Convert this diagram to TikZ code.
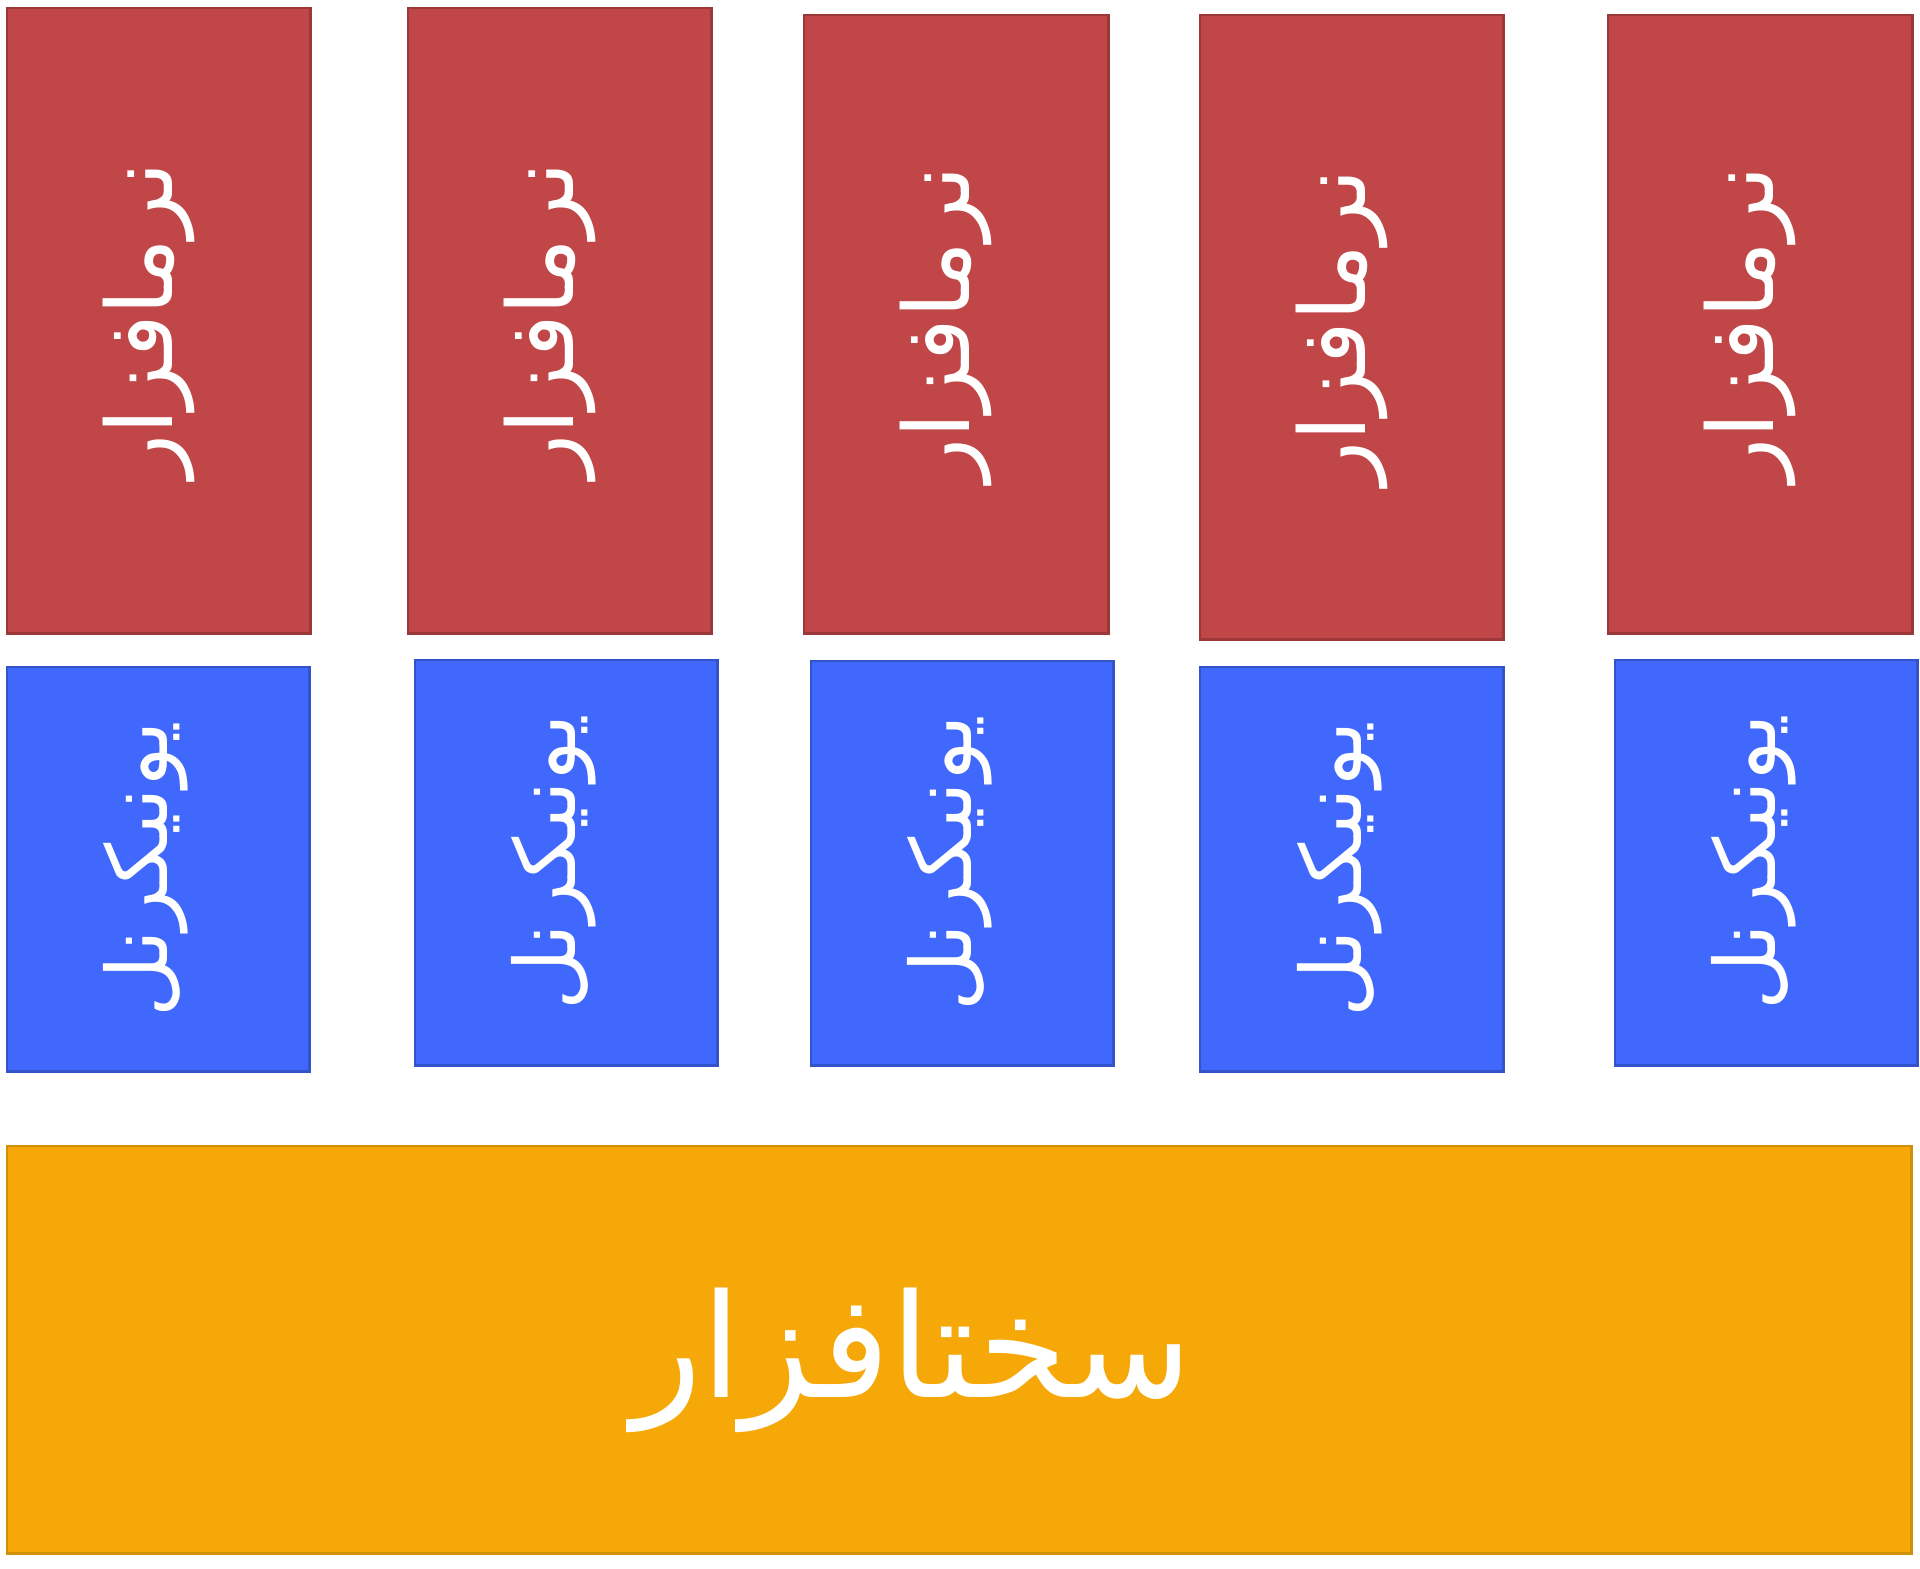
\documentclass[tikz,border=0pt]{standalone}
\usepackage{fontspec}
\newfontfamily\farsifont[Script=Arabic]{DejaVu Sans}
\TeXXeTstate=1
\definecolor{softred}{RGB}{192,70,72}
\definecolor{uniblue}{RGB}{64,104,252}
\definecolor{hardorange}{RGB}{245,168,8}

\begin{document}
\begin{tikzpicture}[x=0.01cm, y=-0.01cm,
		softbox/.style={rectangle, anchor=north west, inner sep=0pt, outer sep=0pt, minimum width=3.03cm, line width=0.8pt, draw=softred!80!black, fill=softred},
		unibox/.style={rectangle, anchor=north west, inner sep=0pt, outer sep=0pt, minimum width=3.02cm, line width=0.8pt, draw=uniblue!80!black, fill=uniblue},
		hardbox/.style={rectangle, anchor=north west, inner sep=0pt, outer sep=0pt, line width=0.8pt, draw=hardorange!85!black, fill=hardorange},
		vlabel/.style={rotate=90, text=white, inner sep=0pt, font=\farsifont\fontsize{26}{32}\selectfont}]
			\useasboundingbox (0,0) rectangle (1920,1569);

			% software layer
			\node (soft1) [softbox, minimum height=6.25cm] at (7,8) {};
			\node (soft2) [softbox, minimum height=6.25cm] at (408,8) {};
			\node (soft3) [softbox, minimum height=6.18cm, minimum width=3.04cm] at (804,15) {};
			\node (soft4) [softbox, minimum height=6.24cm] at (1200,15) {};
			\node (soft5) [softbox, minimum height=6.18cm, minimum width=3.04cm] at (1608,15) {};

			% unikernel layer
			\node (uni1) [unibox, minimum height=4.04cm] at (7,667) {};
			\node (uni2) [unibox, minimum height=4.05cm] at (415,660) {};
			\node (uni3) [unibox, minimum height=4.04cm] at (811,661) {};
			\node (uni4) [unibox, minimum height=4.04cm, minimum width=3.03cm] at (1200,667) {};
			\node (uni5) [unibox, minimum height=4.05cm] at (1615,660) {};

			% hardware layer
			\node (hard) [hardbox, minimum width=19.03cm, minimum height=4.07cm] at (7,1146) {};

			% labels
			\node (soft1text) [vlabel] at ([xshift=-0.1cm]soft1.center) {\beginR نرمافزار\endR};
			\node (soft2text) [vlabel] at ([xshift=-0.1cm]soft2.center) {\beginR نرمافزار\endR};
			\node (soft3text) [vlabel] at ([xshift=-0.1cm]soft3.center) {\beginR نرمافزار\endR};
			\node (soft4text) [vlabel] at ([xshift=-0.1cm]soft4.center) {\beginR نرمافزار\endR};
			\node (soft5text) [vlabel] at ([xshift=-0.1cm]soft5.center) {\beginR نرمافزار\endR};
			\node (uni1text) [vlabel, font=\farsifont\fontsize{24}{30}\selectfont] at ([xshift=-0.12cm]uni1.center) {\beginR یونیکرنل\endR};
			\node (uni2text) [vlabel, font=\farsifont\fontsize{24}{30}\selectfont] at ([xshift=-0.12cm]uni2.center) {\beginR یونیکرنل\endR};
			\node (uni3text) [vlabel, font=\farsifont\fontsize{24}{30}\selectfont] at ([xshift=-0.12cm]uni3.center) {\beginR یونیکرنل\endR};
			\node (uni4text) [vlabel, font=\farsifont\fontsize{24}{30}\selectfont] at ([xshift=-0.12cm]uni4.center) {\beginR یونیکرنل\endR};
			\node (uni5text) [vlabel, font=\farsifont\fontsize{24}{30}\selectfont] at ([xshift=-0.12cm]uni5.center) {\beginR یونیکرنل\endR};
			\node (hardtext) [text=white, inner sep=0pt, font=\farsifont\fontsize{41}{48}\selectfont] at (912,1360) {\beginR سختافزار\endR};
		\end{tikzpicture}
\end{document}
